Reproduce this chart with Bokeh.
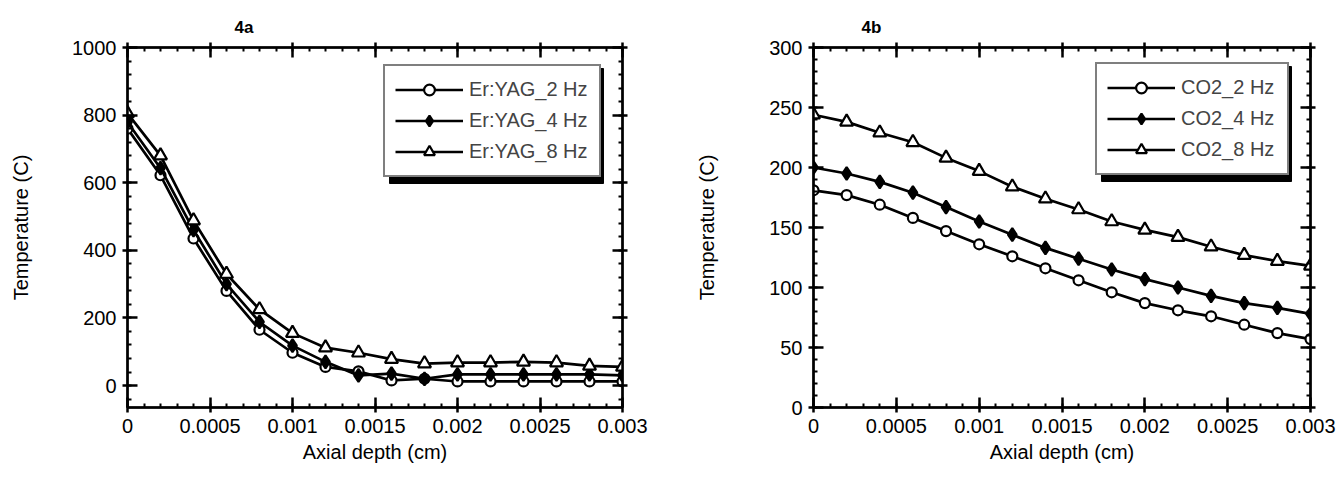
from bokeh.plotting import figure
from bokeh.layouts import row
from bokeh.models import (Legend, LegendItem, Range1d, FixedTicker, Title,
                          LinearAxis, PrintfTickFormatter, BoxAnnotation,
                          CustomJSTickFormatter)
from bokeh.embed import file_html
from bokeh.resources import INLINE

# ---------------- data ----------------
depth = [0.0, 0.0002, 0.0004, 0.0006, 0.0008, 0.0010, 0.0012, 0.0014,
         0.0016, 0.0018, 0.0020, 0.0022, 0.0024, 0.0026, 0.0028, 0.0030]

er_2hz = [760, 622, 435, 280, 165, 97, 55, 42, 15, 20, 12, 12, 12, 12, 12, 12]
er_4hz = [779, 643, 460, 300, 188, 118, 70, 30, 35, 20, 33, 33, 33, 33, 33, 30]
er_8hz = [805, 680, 488, 330, 225, 155, 112, 97, 78, 65, 68, 68, 70, 68, 58, 55]

co2_2hz = [181, 177, 169, 158, 147, 136, 126, 116, 106, 96, 87, 81, 76, 69, 62, 57]
co2_4hz = [200, 195, 188, 179, 167, 155, 144, 133, 124, 115, 107, 100, 93, 87, 83, 78]
co2_8hz = [244, 238, 229, 221, 208, 197, 184, 174, 165, 155, 148, 142, 134, 127, 122, 118]

labels_a = ["Er:YAG_2 Hz", "Er:YAG_4 Hz", "Er:YAG_8 Hz"]
labels_b = ["CO2_2 Hz", "CO2_4 Hz", "CO2_8 Hz"]

x_ticks = [0, 0.0005, 0.001, 0.0015, 0.002, 0.0025, 0.003]
x_minor = [i * 0.0001 for i in range(0, 31)]
ya_ticks = [0, 200, 400, 600, 800, 1000]
ya_minor = [v for v in range(-40, 1001, 40)]
yb_ticks = [0, 50, 100, 150, 200, 250, 300]
yb_minor = [v for v in range(0, 301, 10)]

FONT = "Liberation Sans"
FS = "20px"
FRAME_H = 360


def style_axis(ax, ticks, minor, show_labels=True):
    ax.ticker = FixedTicker(ticks=ticks, minor_ticks=minor)
    ax.axis_line_width = 2.5
    ax.axis_line_color = "black"
    ax.major_tick_line_width = 2.5
    ax.major_tick_line_color = "black"
    ax.minor_tick_line_width = 2
    ax.minor_tick_line_color = "black"
    ax.major_tick_in = 10
    ax.major_tick_out = 5
    ax.minor_tick_in = 4
    ax.minor_tick_out = 0
    ax.major_label_text_font = FONT
    ax.major_label_text_color = "black"
    ax.major_label_standoff = 6
    ax.major_label_text_font_size = FS
    if not show_labels:
        ax.formatter = CustomJSTickFormatter(code="return ''")
        ax.major_label_standoff = 0


def make_panel(title, series, labels, x_range, y_range, y_ticks, y_minor,
               width, b_left, frame_w, title_offset, legend_xy,
               label_w, ylab_standoff):
    b_right = width - b_left - frame_w
    p = figure(width=width, height=480, output_backend="svg",
               toolbar_location=None, x_range=Range1d(*x_range),
               y_range=Range1d(*y_range),
               min_border_left=b_left, min_border_right=b_right,
               min_border_top=47, min_border_bottom=480 - 47 - FRAME_H)
    p.grid.visible = False
    p.outline_line_color = "black"
    p.outline_line_width = 2
    p.background_fill_color = "white"
    p.border_fill_color = "white"

    style_axis(p.xaxis[0], x_ticks, x_minor)
    p.xaxis[0].formatter = PrintfTickFormatter(format="%g")
    style_axis(p.yaxis[0], y_ticks, y_minor)
    p.xaxis[0].axis_label = "Axial depth (cm)"
    p.yaxis[0].axis_label = "Temperature (C)"
    for ax in (p.xaxis[0], p.yaxis[0]):
        ax.axis_label_text_font = FONT
        ax.axis_label_text_font_size = FS
        ax.axis_label_text_font_style = "normal"
        ax.axis_label_text_color = "black"
    p.xaxis[0].axis_label_standoff = 5
    p.yaxis[0].axis_label_standoff = ylab_standoff

    top = LinearAxis()
    style_axis(top, x_ticks, x_minor, show_labels=False)
    top.major_label_standoff = 6
    p.add_layout(top, "above")
    right = LinearAxis()
    style_axis(right, y_ticks, y_minor, show_labels=False)
    p.add_layout(right, "right")

    t = Title(text=title, align="left", offset=title_offset,
              text_font=FONT, text_font_size="17px", text_font_style="bold",
              text_color="black", standoff=12)
    p.add_layout(t, "above")

    markers = [("circle", 10, "white"), ("diamond", 13, "black"),
               ("triangle", 13, "white")]
    items = []
    for vals, lab, (mk, sz, fill) in zip(series, labels, markers):
        ln = p.line(depth, vals, line_color="black", line_width=2.7)
        sc = p.scatter(depth, vals, marker=mk, size=sz, fill_color=fill,
                       line_color="black", line_width=2.2)
        items.append(LegendItem(label=lab, renderers=[ln, sc]))

    # legend geometry (pixels)
    pad, gw, gh, sp, stand = 10, 68, 27, 4, 6
    gh_eff = 29
    lw = 2 * pad + gw + stand + label_w
    lh = 2 * pad + 3 * gh_eff + 2 * sp
    lx, ly = legend_xy
    off = 6
    xs = (x_range[1] - x_range[0]) / frame_w
    ys = (y_range[1] - y_range[0]) / FRAME_H
    shadow = BoxAnnotation(left=x_range[0] + (lx + off) * xs,
                           right=x_range[0] + (lx + lw + off) * xs,
                           bottom=y_range[0] + (ly - off) * ys,
                           top=y_range[0] + (ly + lh - off) * ys,
                           fill_color="black", fill_alpha=1,
                           line_color="black", line_alpha=1)
    p.add_layout(shadow)

    lg = Legend(items=items, location=(lx, ly))
    lg.label_text_font = FONT
    lg.label_text_font_size = FS
    lg.glyph_width = gw
    lg.glyph_height = gh
    lg.label_height = gh
    lg.label_width = label_w
    lg.spacing = sp
    lg.padding = pad
    lg.margin = 0
    lg.label_standoff = stand
    lg.border_line_width = 2.5
    lg.border_line_color = "black"
    lg.background_fill_color = "white"
    lg.background_fill_alpha = 1
    p.add_layout(lg, "center")
    return p


pa = make_panel("4a", [er_2hz, er_4hz, er_8hz], labels_a, (0, 0.003),
                (-65, 1000), ya_ticks, ya_minor, width=668, b_left=127,
                frame_w=495, title_offset=107, legend_xy=(256, 230),
                label_w=120, ylab_standoff=37)
pb = make_panel("4b", [co2_2hz, co2_4hz, co2_8hz], labels_b, (0, 0.003),
                (0, 300), yb_ticks, yb_minor, width=668, b_left=145,
                frame_w=497, title_offset=48, legend_xy=(282, 232),
                label_w=96, ylab_standoff=48)

layout = row(pa, pb)
open("out.html", "w").write(file_html(layout, INLINE))
